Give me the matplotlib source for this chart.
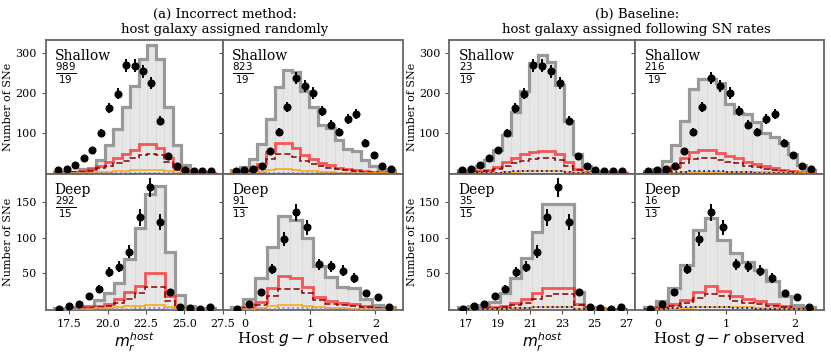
import numpy as np
import matplotlib
matplotlib.use('Agg')
import matplotlib.pyplot as plt

plt.rcParams['font.family'] = ['DejaVu Serif']
plt.rcParams['mathtext.fontset'] = 'dejavusans'

# ---------------- data ----------------
mag_edges_shallow = np.linspace(16.5, 27.0, 20)
mag_edges_deep = np.linspace(16.5, 27.0, 17)
col_edges_shallow = np.linspace(-0.2, 2.3, 20)
col_edges_deep = np.linspace(-0.2, 2.3, 15)

obs_mag_shallow = [8.5, 12.6, 22, 39, 59.5, 100, 164, 199, 270, 269, 255, 225, 132, 43, 20, 8.5, 7, 6, 6]
obs_col_shallow = [6, 8.5, 12.6, 18, 55.5, 103, 166, 239, 219, 201, 156, 122, 103, 136, 149, 77, 47, 18, 11]
obs_mag_deep = [1, 4.4, 6.7, 19, 28, 52, 59, 80, 128, 170, 122, 24, 3, 2, 1, 3]
obs_col_deep = [1, 8, 23.5, 56, 98, 135, 114, 62.6, 60, 54, 43.5, 22, 16.5, 3.5]

# (a) incorrect method
a_ms_total = [4, 4, 5, 12, 14, 33, 71, 112, 167, 218, 285, 321, 285, 167, 71, 21, 5, 3, 2]
a_ms_red = [2, 3, 4, 6, 11, 20, 29, 40, 50, 60, 74, 75, 63, 38, 16, 6, 2, 1, 1]
a_ms_dash = [1, 2, 3, 4, 7, 13, 19, 26, 32, 38, 46, 50, 47, 28, 10, 3, 1, 0.5, 0.5]
a_ms_orange = [0.3, 0.5, 0.8, 1.2, 2, 3, 4, 5.5, 7, 8, 9.5, 10, 9.5, 6, 2, 0.7, 0.3, 0.2, 0.1]
a_ms_blue = [0.2, 0.3, 0.4, 0.6, 0.8, 1, 1.3, 1.6, 2, 2.2, 2.4, 2.5, 2.3, 1.5, 0.6, 0.2, 0.1, 0.1, 0.1]

a_cs_total = [8, 16, 37, 73, 137, 217, 258, 253, 207, 166, 122, 114, 83, 61, 57, 33, 18, 12, 8]
a_cs_red = [2, 4, 10, 25, 54, 76, 76, 64, 46, 36, 27, 21, 15, 11, 9, 6, 4, 3, 2]
a_cs_dash = [1, 3, 7, 17, 36, 50, 50, 42, 31, 25, 19, 15, 11, 8, 6, 4, 3, 2, 1]
a_cs_orange = [0.5, 1, 2, 5, 9, 12, 12, 10, 7, 6, 4.5, 3.5, 2.5, 2, 1.5, 1, 0.6, 0.4, 0.3]
a_cs_blue = [0.2, 0.4, 0.8, 1.3, 2, 2.5, 2.5, 2.2, 1.8, 1.4, 1.1, 0.8, 0.6, 0.5, 0.4, 0.3, 0.2, 0.1, 0.1]

a_md_total = [2, 2, 3, 5, 13, 23, 37, 70, 113, 160, 172, 80, 20, 4, 2, 2]
a_md_red = [1, 1, 2, 3, 5, 8, 14, 24, 33, 50, 50, 18, 2, 1, 0.5, 0.5]
a_md_dash = [0.5, 1, 1, 2, 3, 5, 9, 15, 22, 31, 31, 12, 1, 0.5, 0.3, 0.3]
a_md_orange = [0.2, 0.3, 0.5, 0.8, 1.2, 2, 3, 4, 5, 6, 6, 2.5, 0.3, 0.1, 0.1, 0.1]
a_md_blue = [0.1, 0.1, 0.2, 0.3, 0.4, 0.5, 0.7, 0.9, 1.1, 1.3, 1.3, 0.5, 0.1, 0.05, 0.05, 0.05]

a_cd_total = [3, 15, 43, 87, 130, 125, 99, 61, 45, 31, 29, 15, 6, 3]
a_cd_red = [1, 3, 10, 29, 46, 43, 31, 17, 11, 9, 7, 4, 2, 1]
a_cd_dash = [0.5, 2, 6, 18, 28, 28, 22, 13, 8, 6, 5, 3, 1.5, 0.5]
a_cd_orange = [0.2, 1, 2, 4, 6, 6, 5, 3, 2, 1.5, 1, 0.5, 0.3, 0.1]
a_cd_blue = [0.1, 0.3, 0.6, 1, 1.3, 1.3, 1.1, 0.7, 0.5, 0.4, 0.3, 0.2, 0.1, 0.05]

# (b) baseline
b_ms_total = [8, 10, 20, 33, 58, 95, 154, 205, 275, 295, 278, 222, 130, 50, 18, 6, 4, 3, 2]
b_ms_red = [3, 4, 6, 10, 17, 28, 40, 49, 55, 57, 57, 50, 28, 12, 4, 1.5, 0.7, 0.4, 0.3]
b_ms_dash = [2, 2.5, 4, 6, 11, 18, 26, 32, 36, 38, 38, 35, 20, 8, 2.5, 1, 0.4, 0.2, 0.2]
b_ms_orange = [0.3, 0.5, 1, 1.5, 2.5, 4, 5, 6, 6.5, 7, 7, 6, 4, 1.5, 0.5, 0.2, 0.1, 0.1, 0.1]
b_ms_blue = [0.3, 0.5, 1, 1.5, 2.5, 4, 5.5, 6.5, 7, 7.5, 7.5, 6.5, 4, 1.5, 0.5, 0.2, 0.1, 0.1, 0.1]

b_cs_total = [6, 12, 31, 71, 130, 211, 237, 235, 227, 174, 152, 148, 128, 102, 90, 77, 49, 21, 10]
b_cs_red = [1, 3, 8, 20, 40, 53, 58, 58, 52, 45, 38, 30, 24, 18, 14, 10, 7, 4, 2]
b_cs_dash = [0.5, 2, 5, 13, 27, 36, 40, 40, 35, 30, 26, 20, 16, 12, 9, 6, 4, 2, 1]
b_cs_orange = [0.2, 0.5, 1, 2, 3, 4, 5, 5, 5, 5, 5, 4.5, 4, 4, 3.5, 3, 2, 1, 0.5]
b_cs_blue = [0.3, 1, 2, 3, 5, 7, 7.5, 7.5, 6.5, 5, 4, 3, 2, 1.5, 1, 0.6, 0.4, 0.2, 0.1]

b_md_total = [3, 4, 6.5, 10, 22, 43, 72, 107, 147, 147, 147, 24, 3, 2, 1, 1]
b_md_red = [0.5, 1, 2, 3, 5, 9, 14, 22, 30, 30, 30, 8, 1, 0.5, 0.2, 0.2]
b_md_dash = [0.3, 0.5, 1, 2, 3, 6, 9, 14, 19, 21, 21, 6, 0.5, 0.2, 0.1, 0.1]
b_md_orange = [0.1, 0.2, 0.3, 0.5, 1, 1.5, 2, 3, 3.5, 3.5, 3.5, 1, 0.2, 0.1, 0.1, 0.1]
b_md_blue = [0.1, 0.2, 0.3, 0.5, 1, 1.5, 2.2, 3, 3.5, 3.8, 3.5, 1, 0.2, 0.1, 0.1, 0.1]

b_cd_total = [3, 11, 29, 62, 110, 127, 96, 78, 66, 55, 40, 18, 6, 3]
b_cd_red = [1, 3, 7, 13, 24, 32, 26, 18, 14, 11, 8, 5, 2, 1]
b_cd_dash = [0.5, 2, 4, 9, 16, 21, 18, 12, 9, 7, 5, 3, 1, 0.5]
b_cd_orange = [0.1, 0.3, 0.8, 1.5, 2.5, 3, 3, 2.5, 2.5, 2, 1.5, 1, 0.5, 0.2]
b_cd_blue = [0.2, 0.5, 1.5, 2.5, 3.5, 3.5, 3, 2, 1.5, 1, 0.7, 0.4, 0.2, 0.1]

chi2_a = [r'$\frac{989}{19}$', r'$\frac{823}{19}$', r'$\frac{292}{15}$', r'$\frac{91}{13}$']
chi2_b = [r'$\frac{23}{19}$', r'$\frac{216}{19}$', r'$\frac{35}{15}$', r'$\frac{16}{13}$']
row_labels = ['Shallow', 'Deep']
title_a = '(a) Incorrect method:\nhost galaxy assigned randomly'
title_b = '(b) Baseline:\nhost galaxy assigned following SN rates'

# ---------------- figure ----------------
W, H = 831, 354
fig = plt.figure(figsize=(W / 100, H / 100), dpi=100)


def ax_at(x0, y0, x1, y1):
    return fig.add_axes([x0 / W, 1 - y1 / H, (x1 - x0) / W, (y1 - y0) / H])


def draw(ax, edges, obs, total, red, dash, orange, blue, blue_col):
    edges = np.asarray(edges)
    centers = 0.5 * (edges[:-1] + edges[1:])
    widths = np.diff(edges)
    obs = np.asarray(obs, float)
    ax.bar(centers, total, width=widths, color='#e6e6e6', edgecolor='#d9d9d9',
           linewidth=0.6, zorder=1)
    ax.stairs(total, edges, color='#999999', lw=2.3, zorder=2)
    ax.stairs(red, edges, color='#ff1f1f', alpha=0.72, lw=2.0, zorder=3)
    ax.stairs(dash, edges, color='#8b0000', lw=1.1, ls=(0, (4, 2)), zorder=4)
    ax.stairs(orange, edges, color='orange', lw=1.1, zorder=5)
    ax.stairs(blue, edges, color=blue_col, lw=1.3, ls=':', zorder=6)
    ax.errorbar(centers, obs, yerr=np.sqrt(obs), fmt='o', color='black', ms=4.8,
                elinewidth=1.4, capsize=0, zorder=7)


def style(ax, xlim, ylim, yticks, xticks, show_x, show_y):
    ax.set_xlim(*xlim)
    ax.set_ylim(*ylim)
    ax.set_yticks(yticks)
    ax.set_xticks(xticks)
    ax.tick_params(labelsize=8, length=3, width=0.8, color='#555555')
    if not show_x:
        ax.tick_params(labelbottom=False)
    if not show_y:
        ax.tick_params(labelleft=False)
    for s in ax.spines.values():
        s.set_color('#666666')
        s.set_linewidth(1.3)


top = (40, 174)
bot = (174, 310)
groups = [
    dict(mx=(45.7, 223.3), cx=(223.3, 403.3), blue='#8888dd', chi=chi2_a, title=title_a,
         magticks=[17.5, 20.0, 22.5, 25.0, 27.5],
         data=[(a_ms_total, a_ms_red, a_ms_dash, a_ms_orange, a_ms_blue),
               (a_cs_total, a_cs_red, a_cs_dash, a_cs_orange, a_cs_blue),
               (a_md_total, a_md_red, a_md_dash, a_md_orange, a_md_blue),
               (a_cd_total, a_cd_red, a_cd_dash, a_cd_orange, a_cd_blue)]),
    dict(mx=(449.3, 635.0), cx=(635.0, 824.0), blue='#1010aa', chi=chi2_b, title=title_b,
         magticks=[17, 19, 21, 23, 25, 27],
         data=[(b_ms_total, b_ms_red, b_ms_dash, b_ms_orange, b_ms_blue),
               (b_cs_total, b_cs_red, b_cs_dash, b_cs_orange, b_cs_blue),
               (b_md_total, b_md_red, b_md_dash, b_md_orange, b_md_blue),
               (b_cd_total, b_cd_red, b_cd_dash, b_cd_orange, b_cd_blue)]),
]

mag_lim = (15.975, 27.525)
col_lim = (-0.325, 2.425)
top_lim = (-1, 333)
bot_lim = (-1, 188.5)

for g in groups:
    panels = [
        (g['mx'], top, mag_edges_shallow, obs_mag_shallow, g['data'][0], mag_lim, top_lim, [100, 200, 300], g['magticks'], False, True, 0),
        (g['cx'], top, col_edges_shallow, obs_col_shallow, g['data'][1], col_lim, top_lim, [100, 200, 300], [0, 1, 2], False, False, 0),
        (g['mx'], bot, mag_edges_deep, obs_mag_deep, g['data'][2], mag_lim, bot_lim, [50, 100, 150], g['magticks'], True, True, 1),
        (g['cx'], bot, col_edges_deep, obs_col_deep, g['data'][3], col_lim, bot_lim, [50, 100, 150], [0, 1, 2], True, False, 1),
    ]
    for i, (xr, yr, edges, obs, mdl, xl, yl, yt, xt, sx, sy, row) in enumerate(panels):
        ax = ax_at(xr[0], yr[0], xr[1], yr[1])
        draw(ax, edges, obs, *mdl, g['blue'])
        style(ax, xl, yl, yt, xt, sx, sy)
        ax.text(0.05, 0.935, row_labels[row], transform=ax.transAxes, fontsize=10,
                va='top', ha='left', zorder=10)
        ax.text(0.05, 0.755, g['chi'][i], transform=ax.transAxes, fontsize=10.5,
                va='center', ha='left', zorder=10)
        if sy:
            ax.set_ylabel('Number of SNe', fontsize=8)
            ax.yaxis.set_label_coords(-32.7 / (xr[1] - xr[0]), 0.5)
        if sx:
            if i == 2:
                ax.set_xlabel(r'$m_r^{host}$', fontsize=11, labelpad=1)
            else:
                ax.set_xlabel(r'Host $g-r$ observed', fontsize=11, labelpad=1)
    cx = 0.5 * (g['mx'][0] + g['cx'][1]) / W
    fig.text(cx, 1 - 7.5 / H, g['title'], ha='center', va='top', fontsize=9.5, linespacing=1.2)

fig.savefig('out.png', dpi=100, facecolor='white')
